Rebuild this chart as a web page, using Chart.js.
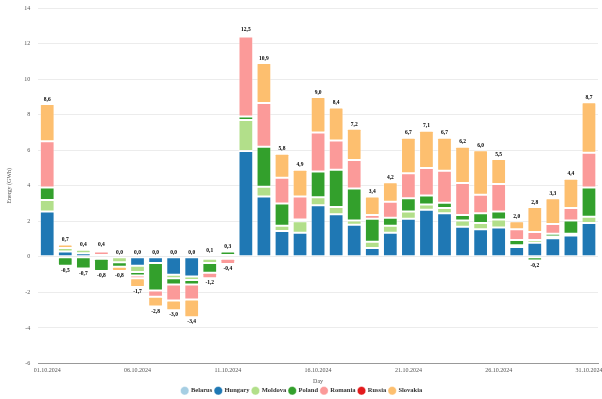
<!DOCTYPE html>
<html>
<head>
<meta charset="utf-8">
<script src="https://cdn.jsdelivr.net/npm/chart.js@4.4.0/dist/chart.umd.min.js"></script>
<style>
  html, body { margin: 0; padding: 0; background: #fff; }
  #wrap { width: 602px; height: 399px; }
</style>
</head>
<body>
<div id="wrap"><canvas id="chart" width="602" height="399"></canvas></div>
<script>
// days of October 2024
const days = [];
for (let d = 1; d <= 31; d++) {
    days.push(String(d).padStart(2, '0') + '.10.2024');
}

const belarus  = Array(31).fill(0);
const hungary  = [2.55, 0.3, 0.2, -0.1, 0, -0.5, -0.35, -1.0, -1.1, -0.1, 0.1, 5.95, 3.4, 1.45, 1.35, 2.9, 2.4, 1.8, 0.5, 1.35, 2.15, 2.65, 2.45, 1.7, 1.55, 1.65, 0.55, 0.8, 1.05, 1.2, 1.9];
const moldova  = [0.65, 0.2, 0.2, 0.1, -0.3, -0.35, 0, -0.2, -0.2, -0.25, -0.1, 1.75, 0.55, 0.3, 0.65, 0.45, 0.4, 0.25, 0.35, 0.4, 0.4, 0.3, 0.3, 0.35, 0.35, 0.45, 0.1, 0.15, 0.1, 0.1, 0.35];
const poland   = [0.7, -0.5, -0.65, -0.7, -0.25, -0.2, -1.55, -0.35, -0.25, -0.55, 0.2, 0.2, 2.25, 1.25, 0.1, 1.45, 2.1, 1.8, 1.3, 0.45, 0.75, 0.5, 0.3, 0.3, 0.55, 0.45, 0.3, -0.2, 0.15, 0.75, 1.65];
const romania  = [2.6, 0, -0.05, 0.2, 0, -0.15, -0.35, -0.9, -0.85, -0.3, -0.3, 4.5, 2.45, 1.45, 1.3, 2.2, 1.65, 1.6, 0.2, 0.9, 1.4, 1.55, 1.8, 1.8, 1.05, 1.55, 0.6, 0.45, 0.55, 0.7, 1.95];
const russia   = Array(31).fill(0);
const slovakia = [2.1, 0.2, 0, 0.1, -0.25, -0.5, -0.55, -0.55, -1.0, 0.1, 0, 0.1, 2.25, 1.35, 1.5, 2.0, 1.85, 1.75, 1.05, 1.1, 2.0, 2.1, 1.85, 2.05, 2.5, 1.4, 0.45, 1.4, 1.45, 1.65, 2.85];

const yTicks = { min: -6, max: 14, step: 2 };

const FONT = "'Liberation Serif', 'Times New Roman', serif";

const series = [
    { label: 'Belarus',  data: belarus,  color: '#a6cee3' },
    { label: 'Hungary',  data: hungary,  color: '#1f78b4' },
    { label: 'Moldova',  data: moldova,  color: '#b2df8a' },
    { label: 'Poland',   data: poland,   color: '#33a02c' },
    { label: 'Romania',  data: romania,  color: '#fb9a99' },
    { label: 'Russia',   data: russia,   color: '#e31a1c' },
    { label: 'Slovakia', data: slovakia, color: '#fdbf6f' },
];

const fmt = v => (Math.round(v * 10) / 10).toFixed(1).replace('.', ',');

// totals above / below each stacked bar
const totalsPlugin = {
    id: 'totals',
    afterDatasetsDraw(chart) {
        const ctx = chart.ctx;
        const y = chart.scales.y;
        const meta = chart.getDatasetMeta(1);
        ctx.save();
        ctx.font = 'bold 5.5px ' + FONT;
        ctx.fillStyle = '#000';
        ctx.textAlign = 'center';
        days.forEach((_, i) => {
            let pos = 0, neg = 0;
            series.forEach(s => {
                const v = s.data[i];
                if (v > 0) pos += v; else neg += v;
            });
            const x = meta.data[i].x;
            ctx.textBaseline = 'bottom';
            ctx.fillText(fmt(pos), x, y.getPixelForValue(pos) - 2);
            if (neg < -0.001) {
                ctx.textBaseline = 'top';
                ctx.fillText(fmt(neg), x, y.getPixelForValue(neg) + 2);
            }
        });
        ctx.restore();
    }
};

new Chart(document.getElementById('chart').getContext('2d'), {
    type: 'bar',
    data: {
        labels: days,
        datasets: series.map(s => ({
            label: s.label,
            data: s.data,
            backgroundColor: s.color,
            borderColor: 'rgba(255,255,255,0.45)',
            borderWidth: 1,
            borderRadius: 1.5,
            borderSkipped: false,
            categoryPercentage: 0.85,
            barPercentage: 0.96,
        }))
    },
    options: {
        responsive: false,
        maintainAspectRatio: false,
        animation: false,
        layout: { padding: { top: 8, right: 4, left: 6, bottom: -5 } },
        plugins: {
            legend: {
                position: 'bottom',
                labels: {
                    usePointStyle: true,
                    pointStyle: 'circle',
                    boxWidth: 6,
                    boxHeight: 6,
                    padding: 3,
                    color: '#333',
                    font: { family: FONT, size: 6.5, weight: 'bold', lineHeight: 1 }
                }
            },
            tooltip: { enabled: false }
        },
        scales: {
            x: {
                stacked: true,
                grid: { display: false, drawTicks: false },
                border: { color: '#999' },
                afterFit: scale => { scale.paddingLeft = 0; scale.paddingRight = 0; },
                ticks: {
                    autoSkip: false,
                    maxRotation: 0,
                    padding: 4,
                    color: '#555',
                    font: { family: FONT, size: 6, lineHeight: 1 },
                    callback: (v, i) => (i % 5 === 0 ? days[i] : '')
                },
                title: {
                    display: true,
                    text: 'Day',
                    color: '#555',
                    padding: { top: 1, bottom: 0 },
                    font: { family: FONT, size: 6, lineHeight: 1 }
                }
            },
            y: {
                stacked: true,
                min: yTicks.min,
                max: yTicks.max,
                grid: { color: '#ececec', drawTicks: false },
                border: { display: false },
                afterFit: scale => { scale.paddingTop = 0; },
                ticks: {
                    stepSize: yTicks.step,
                    color: '#555',
                    padding: 8,
                    font: { family: FONT, size: 6 }
                },
                title: {
                    display: true,
                    text: 'Energy (GWh)',
                    color: '#555',
                    padding: { top: 0, bottom: 3 },
                    font: { family: FONT, size: 6 }
                }
            }
        }
    },
    plugins: [totalsPlugin]
});
</script>
</body>
</html>
